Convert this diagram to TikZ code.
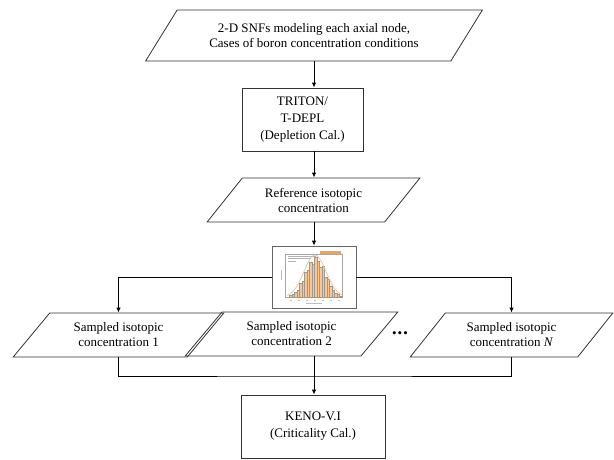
\documentclass[tikz,border=0pt]{standalone}
\usepackage{fontspec}
\setmainfont{Liberation Serif}
\usetikzlibrary{arrows.meta,positioning,shapes.geometric}

\begin{document}
\begin{tikzpicture}[x=1pt,y=-1pt,
  io/.style={trapezium, trapezium left angle=47, trapezium right angle=133,
    trapezium stretches=true, draw=black!80, line width=0.8pt, align=center,
    inner sep=1pt, font=\fontsize{13}{15}\selectfont},
  proc/.style={rectangle, draw=black!80, line width=0.8pt, align=center,
    font=\fontsize{13}{17}\selectfont},
  arr/.style={line width=1pt, -{Latex[length=5pt,width=4.5pt]}},
  line/.style={line width=1pt}]
  \useasboundingbox (0,0) rectangle (614,459);

  % Input and depletion steps
  \node[io, minimum width=338, minimum height=51] (snf) at (314,35.5)
    {2-D SNFs modeling each axial node,\\Cases of boron concentration conditions};
  \node[proc, minimum width=121, minimum height=63] (triton) at (302.5,119.5)
    {TRITON/\\T-DEPL\\(Depletion Cal.)};
  \node[io, minimum width=213, minimum height=44] (ref) at (313.5,200)
    {Reference isotopic\\concentration};

  % Sampling histogram
  \node[rectangle, draw=black!60, line width=0.6pt, fill=white,
    minimum width=84, minimum height=62, inner sep=0pt] (hist) at (314,277) {};
  \draw[gray!70, line width=0.3pt] (285,254) rectangle (342,297);
  \fill[orange!75] (320,250.5) rectangle (341,253.5);
  \foreach \yy/\ll in {256/28, 258.5/22, 261/8}
    \draw[gray!60, line width=0.6pt] (288,\yy) -- ++(\ll,0);
  \foreach \i/\h in {1/2,2/3,3/5,4/7,5/14,6/16,7/25,8/27,9/35,10/33,11/40,
                     12/36,13/30,14/31,15/20,16/18,17/11,18/7,19/4,20/3,21/1}
    \filldraw[fill=orange!45, draw=gray!80, line width=0.2pt]
      ({287+2.5*\i},297) rectangle ++(2.5,-\h);
  \draw[orange!40!brown!50, line width=0.7pt] plot[domain=287:342, samples=40, smooth]
    (\x, {297-42*exp(-((\x-315)^2)/(2*11^2))});
  \foreach \xx in {290,298,306,314,322,330,338}
    \draw[gray!50, line width=0.4pt] (\xx,300) -- ++(2,0);
  \draw[gray!50, line width=0.4pt] (306,303) -- (322,303);
  \draw[gray!50, line width=0.4pt] (281,270) -- (281,280);

  % Sampled concentrations
  \node[io, minimum width=211, minimum height=44] (s1) at (118.5,335)
    {Sampled isotopic\\concentration 1};
  \node[io, minimum width=213, minimum height=44] (s2) at (291.5,334)
    {Sampled isotopic\\concentration 2};
  \node[io, minimum width=203, minimum height=44] (sN) at (511.5,335)
    {Sampled isotopic\\concentration \textit{N}};
  \node[font=\fontsize{13}{13}\selectfont, inner sep=0pt] (dots) at (400,335)
    {\textbullet\kern1pt\textbullet\kern1pt\textbullet};

  % Criticality step
  \node[proc, minimum width=144, minimum height=63] (keno) at (313,426.5)
    {KENO-V.I\\(Criticality Cal.)};

  % Connectors
  \coordinate (join) at (314,376);
  \draw[arr] (snf.center |- snf.south) -- (snf.center |- triton.north);
  \draw[arr] (snf.center |- triton.south) -- (snf.center |- ref.north);
  \draw[arr] (snf.center |- ref.south) -- (hist.north);
  \draw[arr] (hist.west) -| (s1.center |- s1.north);
  \draw[arr] (hist.east) -| (sN.center |- sN.north);
  \draw[line] (s1.center |- s1.south) |- (join) -| (sN.center |- sN.south);
  \draw[line] (join |- s2.south) -- (join);
  \draw[arr] (join) -- (join |- keno.north);
\end{tikzpicture}
\end{document}
